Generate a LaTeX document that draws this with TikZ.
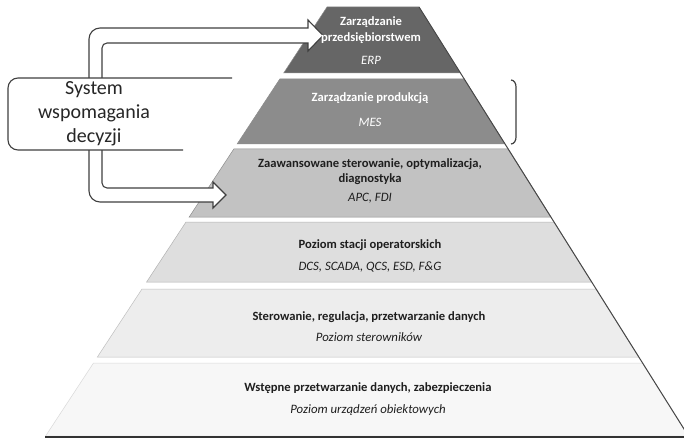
\documentclass[tikz,border=0pt]{standalone}
\usepackage{fontspec}
\setmainfont{Carlito}
\begin{document}
\begin{tikzpicture}[x=1pt,y=-1pt,
  lvl/.style={draw=black!45, line width=0.5pt},
  ttl/.style={font=\bfseries\fontsize{12.6}{15.5}\selectfont, text=black!88, inner sep=0, align=center},
  sub/.style={font=\itshape\fontsize{12.8}{15}\selectfont, text=black!88, inner sep=0},
  arrshape/.style={draw=black!75, line width=1.1pt, fill=white},
  boxline/.style={draw=black!75, line width=1.1pt},
]
\useasboundingbox (0,0) rectangle (684,438);
\fill[white] (0,0) rectangle (684,438);

% pyramid levels  xL(y)=327-0.656(y-7), xR(y)=419+0.628(y-7)
\path[lvl, fill=black!60] (327,7) -- (419,7) -- (460.4,73) -- (283.7,73) -- cycle;
\path[lvl, fill=black!45] (279.8,79) -- (464.2,79) -- (505,144) -- (237.1,144) -- cycle;
\path[lvl, fill=black!24] (233.8,149) -- (508.2,149) -- (550.9,217) -- (189.2,217) -- cycle;
\path[lvl, fill=black!13, draw=black!30] (186,222) -- (554,222) -- (591.7,282) -- (146.6,282) -- cycle;
\path[lvl, fill=black!7, draw=black!25] (142,289) -- (596.1,289) -- (638.8,357) -- (97.4,357) -- cycle;
\path[lvl, fill=black!3, draw=black!15] (93.5,363) -- (642.6,363) -- (688.4,436) -- (45.6,436) -- cycle;

% right outer edge and base line
\coordinate (apexR) at (419,7);
\coordinate (baseR) at (688.4,436);
\coordinate (baseL) at (45,437);
\coordinate (baseE) at (684,437);
\draw[black!72, line width=1pt] (apexR) -- (baseR);
\draw[black!80, line width=2.2pt] (baseL) -- (baseE);

% hollow arrows
\coordinate (upT) at (323,35.5);
\coordinate (dnT) at (226,195);
\path[arrshape] (89,78) [rounded corners=11pt] -- (89,28) -- (200,28) [sharp corners] -- (308,28) -- (308,20) -- (upT) -- (308,51) -- (308,43) -- (200,43) [rounded corners=5pt] -- (102,43) -- (102,78);
\path[arrshape] (89,150) [rounded corners=11pt] -- (89,202) -- (150,202) [sharp corners] -- (213,202) -- (213,208) -- (dnT) -- (213,182) -- (213,188) -- (150,188) [rounded corners=5pt] -- (102,188) -- (102,150);

% decision support box (open on the right)
\path[fill=white] (8,78) rectangle (232,150);
\draw[boxline] (232,78) [rounded corners=10pt] -- (8,78) -- (8,150) -- (183,150);
\node[font=\fontsize{20}{24}\selectfont, text=black!85, align=center, inner sep=0] (sys) at (94,114) {System\\wspomagania\\decyzji};

% level texts
\node[ttl, text=white] (erp) at (371,30) {Zarządzanie\\przedsiębiorstwem};
\node[sub, text=white] (erps) at (371,60) {ERP};
\node[ttl, text=white] (mes) at (370,98) {Zarządzanie produkcją};
\node[sub, text=white] (mess) at (370,122) {MES};
\node[ttl] (apc) at (370,171.5) {Zaawansowane sterowanie, optymalizacja,\\diagnostyka};
\node[sub] (apcs) at (370,198) {APC, FDI};
\node[ttl] (ops) at (370,245) {Poziom stacji operatorskich};
\node[sub] (opss) at (370,267) {DCS, SCADA, QCS, ESD, F\&G};
\node[ttl] (ctl) at (369,317) {Sterowanie, regulacja, przetwarzanie danych};
\node[sub] (ctls) at (369,337) {Poziom sterowników};
\node[ttl] (fld) at (368,388) {Wstępne przetwarzanie danych, zabezpieczenia};
\node[sub] (flds) at (368,410) {Poziom urządzeń obiektowych};

% right bracket
\draw[black!75, line width=1.2pt] (511,80) to[out=0,in=90] (516,87) -- (516,137) to[out=-90,in=0] (511,144);
\end{tikzpicture}
\end{document}
